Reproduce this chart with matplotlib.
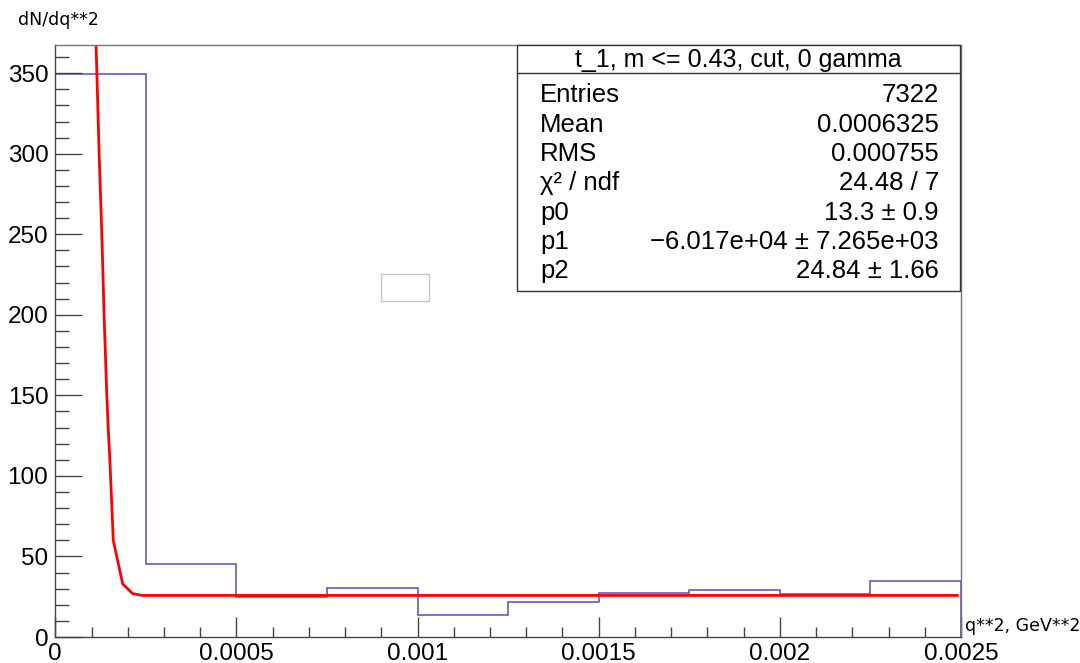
import numpy as np
import matplotlib
matplotlib.use("Agg")
import matplotlib.pyplot as plt
from matplotlib.patches import Rectangle
from matplotlib.ticker import MultipleLocator

# histogram: 10 bins of q**2
edges = np.linspace(0, 0.0025, 11)
counts = [349.5, 45.5, 24.6, 30.6, 13.6, 21.9, 27.6, 28.9, 26.4, 35.0]

# fitted curve as drawn
fit_x = [0.000112, 0.000121, 0.000129, 0.0001345, 0.000142, 0.0001464,
         0.000151, 0.000160, 0.000186, 0.000213, 0.000239, 0.00249]
fit_y = [372, 300, 246, 201, 151, 128, 108, 60, 33, 27, 25.8, 25.8]

stat_title = "t_1, m <= 0.43, cut, 0 gamma"
stat_names = ["Entries", "Mean", "RMS", "\u03c7\u00b2 / ndf", "p0", "p1", "p2"]
stat_vals = ["7322", "0.0006325", "0.000755", "24.48 / 7", "13.3 \u00b1 0.9",
             "\u22126.017e+04 \u00b1 7.265e+03", "24.84 \u00b1 1.66"]

W, H = 1080, 663
fig = plt.figure(figsize=(W / 100, H / 100), dpi=100)

def fx(px):
    return px / W

def fy(py):
    return 1 - py / H

L, R, T, B = 55.3, 961, 45, 637
ax = fig.add_axes([fx(L), fy(B), fx(R) - fx(L), fy(T) - fy(B)])

ax.stairs(counts, edges, color="#5050bb", lw=1.1)
ax.plot(fit_x, fit_y, color="#ff0000", lw=2)

ax.set_xlim(0, 0.0025)
ax.set_ylim(0, 367.5)
ax.xaxis.set_major_locator(MultipleLocator(0.0005))
ax.xaxis.set_minor_locator(MultipleLocator(0.0001))
ax.yaxis.set_major_locator(MultipleLocator(50))
ax.yaxis.set_minor_locator(MultipleLocator(10))
ax.set_xticks([0, 0.0005, 0.001, 0.0015, 0.002, 0.0025])
ax.set_xticklabels(["0", "0.0005", "0.001", "0.0015", "0.002", "0.0025"])

tick_font = "Liberation Sans"
ax.tick_params(axis="both", which="both", direction="in", color="#444444",
               labelsize=17.5)
ax.tick_params(axis="y", which="major", length=19.5, width=1, pad=5)
ax.tick_params(axis="y", which="minor", length=10, width=1)
ax.tick_params(axis="x", which="major", length=14.5, width=1, pad=4)
ax.tick_params(axis="x", which="minor", length=7.2, width=1)
ax.tick_params(top=False, right=False, which="both")
for lab in ax.get_xticklabels() + ax.get_yticklabels():
    lab.set_fontfamily(tick_font)
for s in ax.spines.values():
    s.set_color("#444444")
    s.set_linewidth(1)
ax.spines["top"].set_color("#777777")
ax.spines["right"].set_color("#777777")

# axis titles
fig.text(fx(18), fy(20), "dN/dq**2", fontsize=12.5, family="DejaVu Sans",
         va="center", ha="left")
fig.text(fx(965), fy(626), "q**2, GeV**2", fontsize=12.5, family="DejaVu Sans",
         va="center", ha="left")

# empty pave
fig.patches.append(Rectangle((fx(381), fy(301)), fx(429) - fx(381), fy(274) - fy(301),
                             transform=fig.transFigure, fill=False,
                             edgecolor="#c8c8c8", lw=1))

# stats box
bx0, bx1, by0, by1 = 517, 960, 45, 291
fig.patches.append(Rectangle((fx(bx0), fy(by1)), fx(bx1) - fx(bx0), fy(by0) - fy(by1),
                             transform=fig.transFigure, facecolor="white",
                             edgecolor="#333333", lw=1, zorder=5))
fig.add_artist(plt.Line2D([fx(bx0), fx(bx1)], [fy(73), fy(73)],
                          transform=fig.transFigure, color="#333333", lw=1, zorder=6))
fig.text(fx((bx0 + bx1) / 2), fy(67), stat_title, fontsize=18, family=tick_font,
         ha="center", va="baseline", zorder=7)
row_y = [94.5 + 29.3 * i for i in range(len(stat_names))]
for yy, name, val in zip(row_y, stat_names, stat_vals):
    fig.text(fx(540), fy(yy + 8), name, fontsize=18.5, family=tick_font,
             ha="left", va="baseline", zorder=7)
    fig.text(fx(939), fy(yy + 8), val, fontsize=18.5, family=tick_font,
             ha="right", va="baseline", zorder=7)

fig.savefig("out.png", dpi=100)
